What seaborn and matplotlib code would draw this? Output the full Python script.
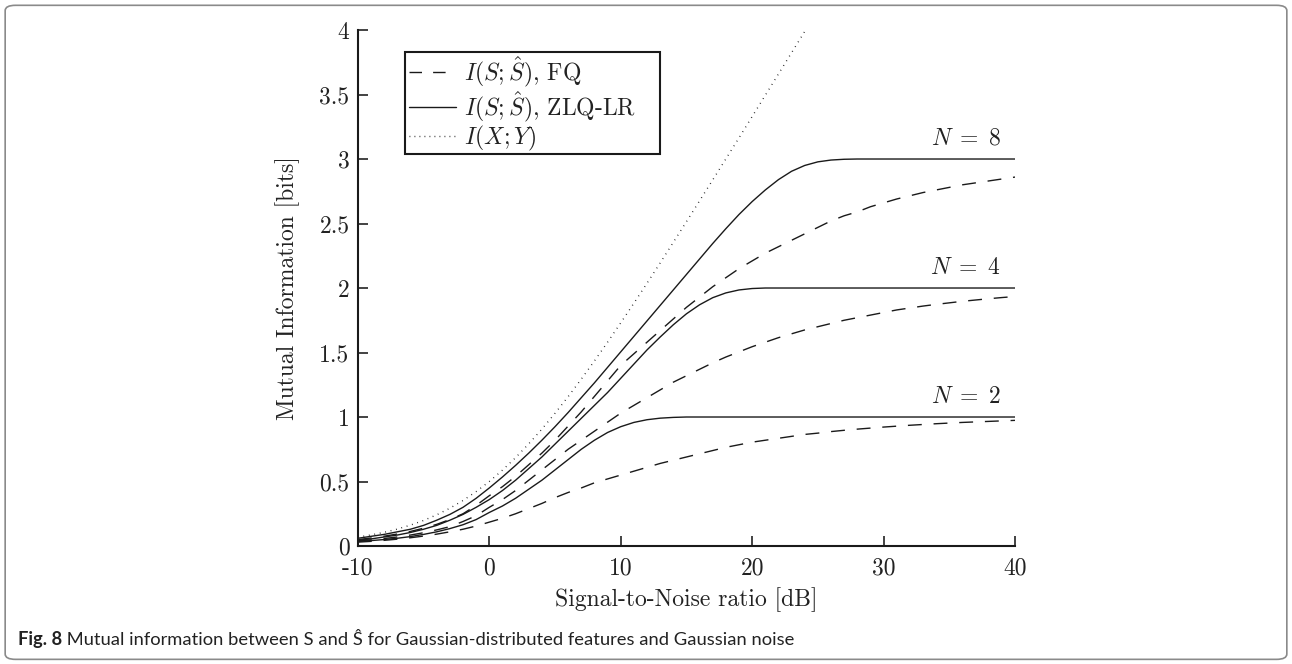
import numpy as np
import pandas as pd
import matplotlib
matplotlib.use("Agg")
import matplotlib.pyplot as plt
import seaborn as sns
from matplotlib.lines import Line2D
from matplotlib.patches import FancyBboxPatch, Rectangle

# ---------------- data ----------------
snr = list(range(-10, 41))  # dB

fq_n2 = [0.03, 0.036, 0.044, 0.053, 0.064, 0.077, 0.092, 0.11, 0.13, 0.155,
         0.185, 0.215, 0.25, 0.29, 0.33, 0.375, 0.415, 0.45, 0.49, 0.52,
         0.55, 0.58, 0.61, 0.64, 0.665, 0.69, 0.715, 0.74, 0.765, 0.785,
         0.805, 0.82, 0.835, 0.85, 0.865, 0.875, 0.887, 0.897, 0.906, 0.914,
         0.922, 0.929, 0.936, 0.942, 0.948, 0.953, 0.958, 0.962, 0.966, 0.97, 0.974]
fq_n4 = [0.04, 0.048, 0.058, 0.07, 0.085, 0.103, 0.125, 0.15, 0.19, 0.235,
         0.3, 0.36, 0.43, 0.51, 0.59, 0.67, 0.75, 0.82, 0.89, 0.96,
         1.03, 1.09, 1.15, 1.21, 1.27, 1.32, 1.37, 1.42, 1.465, 1.505,
         1.545, 1.58, 1.615, 1.645, 1.675, 1.70, 1.725, 1.75, 1.77, 1.79,
         1.81, 1.83, 1.845, 1.86, 1.873, 1.885, 1.897, 1.907, 1.917, 1.926, 1.934]
fq_n8 = [0.05, 0.062, 0.076, 0.093, 0.113, 0.138, 0.168, 0.205, 0.25, 0.315,
         0.39, 0.46, 0.54, 0.63, 0.72, 0.82, 0.93, 1.04, 1.16, 1.28,
         1.40, 1.49, 1.58, 1.67, 1.76, 1.85, 1.93, 2.01, 2.08, 2.15,
         2.21, 2.27, 2.32, 2.37, 2.42, 2.47, 2.52, 2.56, 2.59, 2.63,
         2.66, 2.69, 2.715, 2.74, 2.76, 2.78, 2.80, 2.815, 2.83, 2.845, 2.86]

zlq_n2 = [0.035, 0.042, 0.05, 0.06, 0.073, 0.09, 0.11, 0.135, 0.165, 0.205,
          0.26, 0.31, 0.37, 0.44, 0.51, 0.59, 0.67, 0.75, 0.82, 0.88,
          0.925, 0.958, 0.979, 0.991, 0.997, 1.0, 1.0, 1.0, 1.0, 1.0,
          1.0, 1.0, 1.0, 1.0, 1.0, 1.0, 1.0, 1.0, 1.0, 1.0,
          1.0, 1.0, 1.0, 1.0, 1.0, 1.0, 1.0, 1.0, 1.0, 1.0, 1.0]
zlq_n4 = [0.045, 0.055, 0.07, 0.085, 0.105, 0.13, 0.16, 0.2, 0.245, 0.3,
          0.36, 0.43, 0.51, 0.6, 0.69, 0.79, 0.89, 0.99, 1.09, 1.19,
          1.3, 1.41, 1.52, 1.62, 1.715, 1.80, 1.87, 1.925, 1.962, 1.985,
          1.996, 2.0, 2.0, 2.0, 2.0, 2.0, 2.0, 2.0, 2.0, 2.0,
          2.0, 2.0, 2.0, 2.0, 2.0, 2.0, 2.0, 2.0, 2.0, 2.0, 2.0]
zlq_n8 = [0.06, 0.075, 0.09, 0.11, 0.13, 0.16, 0.2, 0.245, 0.3, 0.37,
          0.45, 0.535, 0.625, 0.72, 0.82, 0.925, 1.035, 1.15, 1.265, 1.385,
          1.505, 1.625, 1.745, 1.865, 1.985, 2.105, 2.225, 2.345, 2.46, 2.57,
          2.67, 2.76, 2.84, 2.905, 2.95, 2.978, 2.992, 2.998, 3.0, 3.0,
          3.0, 3.0, 3.0, 3.0, 3.0, 3.0, 3.0, 3.0, 3.0, 3.0, 3.0]

snr_xy = list(range(-10, 25))
mi_xy = [0.069, 0.086, 0.106, 0.131, 0.162, 0.198, 0.242, 0.293, 0.353, 0.422,
         0.5, 0.588, 0.685, 0.792, 0.906, 1.029, 1.158, 1.294, 1.435, 1.58,
         1.73, 1.882, 2.037, 2.194, 2.354, 2.514, 2.676, 2.838, 3.001, 3.164,
         3.329, 3.494, 3.659, 3.824, 3.989]

n_labels = [r"$N\;=\;2$", r"$N\;=\;4$", r"$N\;=\;8$"]
n_label_y = [1.11, 2.11, 3.11]
x_ticks = [-10, 0, 10, 20, 30, 40]
x_tick_labels = ["-10", "0", "10", "20", "30", "40"]
y_ticks = [0, 0.5, 1, 1.5, 2, 2.5, 3, 3.5, 4]
y_tick_labels = ["0", "0.5", "1", "1.5", "2", "2.5", "3", "3.5", "4"]
legend_labels = [r"$I(S;\hat{S})$, FQ", r"$I(S;\hat{S})$, ZLQ-LR", r"$I(X;Y)$"]
x_label = "Signal-to-Noise ratio [dB]"
y_label = "Mutual Information [bits]"
caption_bold = "Fig. 8"
caption_rest = " Mutual information between S and \u015c for Gaussian-distributed features and Gaussian noise"

# ---------------- style ----------------
sns.set_theme(style="white")
plt.rcParams["font.family"] = "serif"
plt.rcParams["font.serif"] = ["cmr10", "DejaVu Serif"]
plt.rcParams["mathtext.fontset"] = "cm"
plt.rcParams["axes.unicode_minus"] = False
plt.rcParams["axes.formatter.use_mathtext"] = True

fig = plt.figure(figsize=(12.92, 6.64), dpi=100)
ax = fig.add_axes([0.277, 0.1777, 0.5086, 0.7771])

ink = "#1a1a1a"
dash = (0, (10, 8.5))
dot = (0, (0.6, 3.4))
lw = 1.0

for series in [fq_n2, fq_n4, fq_n8]:
    sns.lineplot(x=snr, y=series, ax=ax, color=ink, lw=lw, linestyle=dash)
for series in [zlq_n2, zlq_n4, zlq_n8]:
    sns.lineplot(x=snr, y=series, ax=ax, color=ink, lw=lw, linestyle="-")
sns.lineplot(x=snr_xy, y=mi_xy, ax=ax, color=ink, lw=lw, linestyle=dot)

for lab, yy in zip(n_labels, n_label_y):
    ax.text(38.9, yy, lab, ha="right", va="baseline", fontsize=17, color="#222222")

ax.set_xlim(-10, 40)
ax.set_ylim(0, 4)
ax.set_xticks(x_ticks)
ax.set_xticklabels(x_tick_labels)
ax.set_yticks(y_ticks)
ax.set_yticklabels(y_tick_labels)
ax.tick_params(direction="in", length=7, width=1.2, labelsize=17, colors="#222222",
               bottom=True, left=True)
ax.tick_params(axis="x", pad=8)
ax.tick_params(axis="y", pad=6)
for side in ["top", "right"]:
    ax.spines[side].set_visible(False)
for side in ["left", "bottom"]:
    ax.spines[side].set_color(ink)
    ax.spines[side].set_linewidth(1.5)
ax.set_xlabel(x_label, fontsize=17, color="#222222", labelpad=6)
ax.set_ylabel(y_label, fontsize=17, color="#222222", labelpad=14)

# legend: box drawn as a rectangle, entries from the legend
box = Rectangle((0.0715, 0.759), 0.3885, 0.198, transform=ax.transAxes,
                facecolor="white", edgecolor=ink, lw=1.5, zorder=4)
ax.add_patch(box)
handles = [Line2D([], [], color=ink, lw=lw, linestyle=(0, (9, 8))),
           Line2D([], [], color=ink, lw=lw, linestyle="-"),
           Line2D([], [], color=ink, lw=lw, linestyle=(0, (0.6, 3.0)))]
leg = ax.legend(handles, legend_labels, loc="upper left", bbox_to_anchor=(0.0745, 0.957),
                fontsize=17, frameon=False, handlelength=2.0,
                handletextpad=0.35, borderpad=0.08, labelspacing=0.0, borderaxespad=0)
leg.set_zorder(5)
for t in leg.get_texts():
    t.set_color("#222222")

# figure border
border = FancyBboxPatch((0.004, 0.007), 0.992, 0.985, boxstyle="round,pad=0,rounding_size=0.008",
                        transform=fig.transFigure, fill=False, edgecolor="#8a8a8a", lw=1.2)
fig.add_artist(border)

# caption
cap_font = ["Lato", "DejaVu Sans"]
cap_y = 0.029
t1 = fig.text(0.014, cap_y, caption_bold, fontsize=13.2, fontweight="bold", family=cap_font,
              color="#222222", va="baseline")
fig.canvas.draw()
bb = t1.get_window_extent(renderer=fig.canvas.get_renderer())
x_next = bb.x1 / fig.bbox.width
fig.text(x_next, cap_y, caption_rest, fontsize=13.2, family=cap_font, color="#222222", va="baseline")

fig.savefig("out.png", dpi=100)
